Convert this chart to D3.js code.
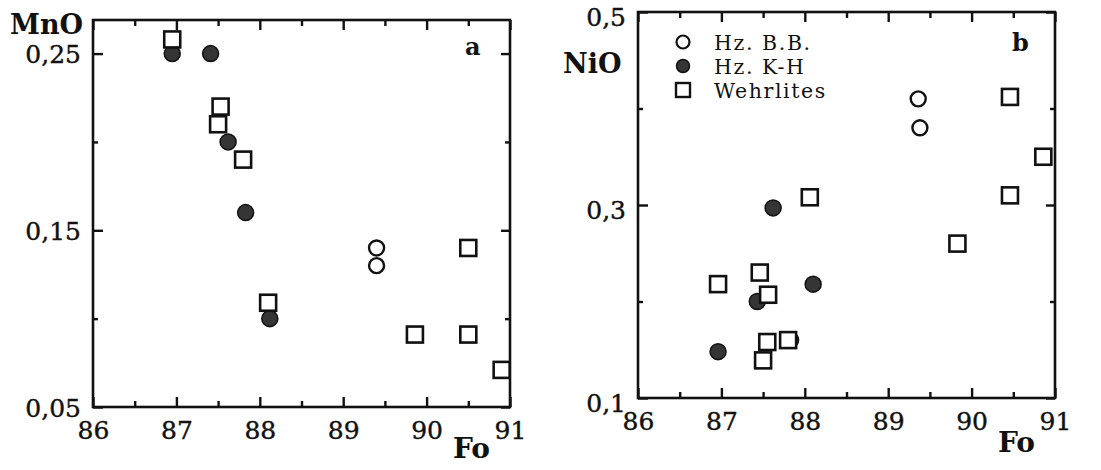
<!DOCTYPE html>
<html>
<head>
<meta charset="utf-8">
<script src="https://cdn.jsdelivr.net/npm/d3@7"></script>
<style>
body { margin:0; background:#fff; }
text { font-family:"DejaVu Serif", serif; fill:#111; }
</style>
</head>
<body>
<svg width="1101" height="470"></svg>
<script>
// panel a : MnO vs Fo
var aBBFo = [89.4, 89.4];
var aBBMnO = [0.14, 0.13];
var aKHFo = [86.95, 87.41, 87.62, 87.83, 88.12];
var aKHMnO = [0.25, 0.25, 0.20, 0.16, 0.10];
var aWFo = [86.95, 87.53, 87.5, 87.8, 88.1, 90.5, 89.86, 90.5, 90.9];
var aWMnO = [0.258, 0.22, 0.21, 0.19, 0.109, 0.14, 0.091, 0.091, 0.071];

// panel b : NiO vs Fo
var bBBFo = [89.36, 89.38];
var bBBNiO = [0.41, 0.38];
var bKHFo = [87.62, 88.1, 87.43, 86.96, 87.83];
var bKHNiO = [0.297, 0.218, 0.2, 0.148, 0.16];
var bWFo = [88.06, 90.46, 90.86, 90.46, 89.83, 86.96, 87.46, 87.56, 87.55, 87.8, 87.5];
var bWNiO = [0.308, 0.412, 0.35, 0.31, 0.26, 0.218, 0.23, 0.207, 0.158, 0.16, 0.139];

var foTicks = [86, 87, 88, 89, 90, 91];
var foMinor = [86.5, 87.5, 88.5, 89.5, 90.5];
var legendNames = ["Hz. B.B.", "Hz. K-H", "Wehrlites"];

var svg = d3.select("svg");

var zip = function(xs, ys) { return xs.map(function(d, i) { return [d, ys[i]]; }); };

var drawPanel = function(p)
{
    var x = d3.scaleLinear().domain([86, 91]).range([p.left, p.right]);
    var y = d3.scaleLinear().domain(p.yDomain).range([p.bottom, p.top]);
    var g = svg.append("g");
    var fmt = function(d) { return d.toFixed(p.dec).replace(".", ","); };

    var axes = [
        [d3.axisBottom(x).tickValues(foTicks).tickSize(-10).tickPadding(14).tickFormat(String), "translate(0," + p.bottom + ")"],
        [d3.axisBottom(x).tickValues(foMinor).tickSize(-6).tickFormat(""), "translate(0," + p.bottom + ")"],
        [d3.axisTop(x).tickValues(foTicks).tickSize(-10).tickFormat(""), "translate(0," + p.top + ")"],
        [d3.axisTop(x).tickValues(foMinor).tickSize(-6).tickFormat(""), "translate(0," + p.top + ")"],
        [d3.axisLeft(y).tickValues(p.yMajor).tickSize(-10).tickPadding(12).tickFormat(fmt), "translate(" + p.left + ",0)"],
        [d3.axisLeft(y).tickValues(p.yMinor).tickSize(-5).tickFormat(""), "translate(" + p.left + ",0)"],
        [d3.axisRight(y).tickValues(p.yMajor).tickSize(-9).tickFormat(""), "translate(" + p.right + ",0)"],
        [d3.axisRight(y).tickValues(p.yMinor).tickSize(-5).tickFormat(""), "translate(" + p.right + ",0)"]
    ];
    axes.forEach(function(a, i) {
        var ag = g.append("g").attr("transform", a[1]).call(a[0]);
        ag.select(".domain").remove();
        ag.selectAll("line").attr("stroke", "#111").attr("stroke-width", 2.4);
        ag.selectAll("text").style("font-family", "DejaVu Serif").style("font-size", "25px")
        .attr("fill", "#111").attr("stroke", "#111").attr("stroke-width", 0.4);
        if (i == 4) ag.selectAll("text").attr("transform", "translate(0," + p.yLabelShift + ")");
    });

    g.append("rect")
    .attr("x", p.left).attr("y", p.top)
    .attr("width", p.right - p.left).attr("height", p.bottom - p.top)
    .attr("fill", "none").attr("stroke", "#111").attr("stroke-width", 2.6);

    g.selectAll(".kh").data(zip(p.khFo, p.khV)).enter().append("circle")
    .attr("cx", function(d) { return x(d[0]); })
    .attr("cy", function(d) { return y(d[1]); })
    .attr("r", 8).attr("fill", "#353535").attr("stroke", "#111").attr("stroke-width", 1.5);

    g.selectAll(".w").data(zip(p.wFo, p.wV)).enter().append("rect")
    .attr("x", function(d) { return x(d[0]) - 8; })
    .attr("y", function(d) { return y(d[1]) - 8; })
    .attr("width", 16).attr("height", 16)
    .attr("fill", "#fff").attr("stroke", "#111").attr("stroke-width", 2.6);

    g.selectAll(".bb").data(zip(p.bbFo, p.bbV)).enter().append("circle")
    .attr("cx", function(d) { return x(d[0]); })
    .attr("cy", function(d) { return y(d[1]); })
    .attr("r", 7.5).attr("fill", "#fff").attr("stroke", "#111").attr("stroke-width", 2.4);

    g.append("text").attr("x", p.yTitle[0]).attr("y", p.yTitle[1])
    .style("font-weight", "bold").style("font-size", "27px").text(p.yName);
    g.append("text").attr("x", p.xTitle[0]).attr("y", p.xTitle[1])
    .style("font-weight", "bold").style("font-size", "28px").text("Fo");
    g.append("text").attr("x", p.tag[0]).attr("y", p.tag[1])
    .style("font-weight", "bold").style("font-size", "24px").text(p.tagText);
    return { x: x, y: y, g: g };
}

drawPanel({
    left: 93, right: 510, top: 20, bottom: 407,
    yDomain: [0.05, 0.269], yMajor: [0.05, 0.15, 0.25], yMinor: [0.10, 0.20], dec: 2, yLabelShift: 1,
    bbFo: aBBFo, bbV: aBBMnO, khFo: aKHFo, khV: aKHMnO, wFo: aWFo, wV: aWMnO,
    yName: "MnO", yTitle: [10, 34], xTitle: [453, 458], tag: [465, 55], tagText: "a"
});

var b = drawPanel({
    left: 638, right: 1055, top: 12, bottom: 398,
    yDomain: [0.1, 0.5], yMajor: [0.1, 0.3, 0.5], yMinor: [0.2, 0.4], dec: 1, yLabelShift: 5,
    bbFo: bBBFo, bbV: bBBNiO, khFo: bKHFo, khV: bKHNiO, wFo: bWFo, wV: bWNiO,
    yName: "NiO", yTitle: [563, 73], xTitle: [998, 452], tag: [1012, 51], tagText: "b"
});

// legend in panel b
var leg = b.g.append("g");
legendNames.forEach(function(name, i) {
    var cy = 42 + i * 24;
    if (i == 2) {
        leg.append("rect").attr("x", 676).attr("y", cy - 7).attr("width", 14).attr("height", 14)
        .attr("fill", "#fff").attr("stroke", "#111").attr("stroke-width", 2.4);
    } else {
        leg.append("circle").attr("cx", 683).attr("cy", cy).attr("r", 6.5)
        .attr("fill", i == 1 ? "#353535" : "#fff").attr("stroke", "#111").attr("stroke-width", i == 1 ? 1.5 : 2.2);
    }
    leg.append("text").attr("x", 714).attr("y", cy + 7.5)
    .style("font-size", "20.5px").style("letter-spacing", "1.6px").text(name);
});
</script>
</body>
</html>
